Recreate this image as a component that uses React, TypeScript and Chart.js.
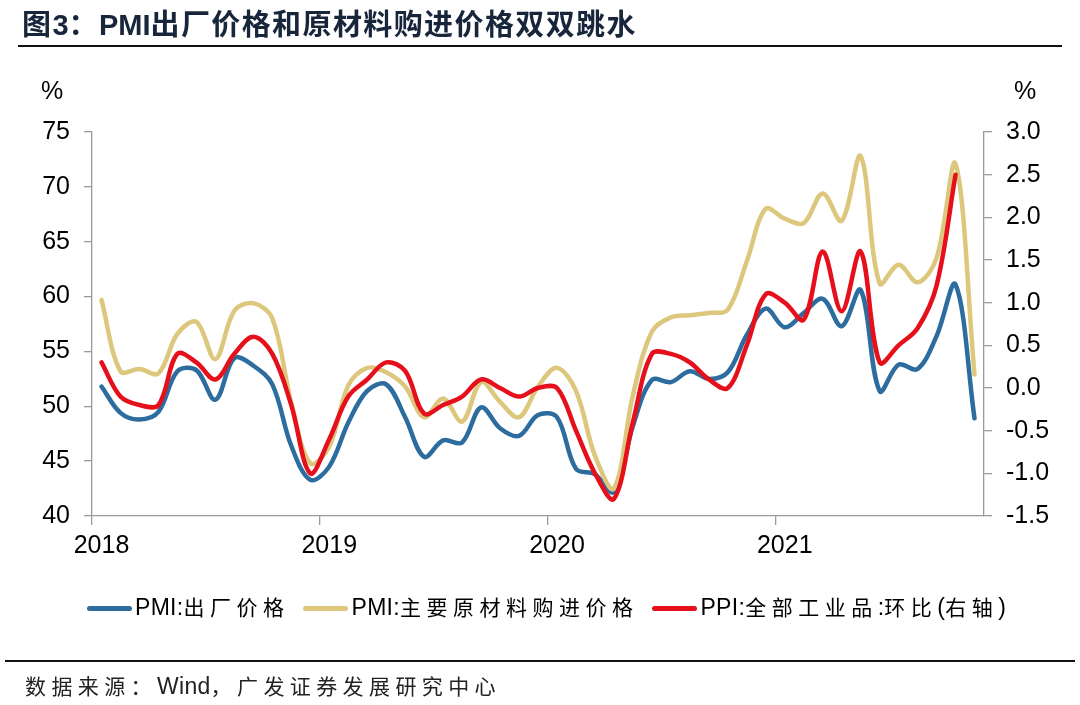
import React, { useEffect, useRef } from 'react';
import { Chart, registerables } from 'chart.js';

Chart.register(...registerables);

// Monthly categories, Jan 2018 – Nov 2021
const months = [
  '2018-01', '2018-02', '2018-03', '2018-04', '2018-05', '2018-06', '2018-07', '2018-08', '2018-09', '2018-10', '2018-11', '2018-12',
  '2019-01', '2019-02', '2019-03', '2019-04', '2019-05', '2019-06', '2019-07', '2019-08', '2019-09', '2019-10', '2019-11', '2019-12',
  '2020-01', '2020-02', '2020-03', '2020-04', '2020-05', '2020-06', '2020-07', '2020-08', '2020-09', '2020-10', '2020-11', '2020-12',
  '2021-01', '2021-02', '2021-03', '2021-04', '2021-05', '2021-06', '2021-07', '2021-08', '2021-09', '2021-10', '2021-11',
];

const yearLabels = ['2018', '2019', '2020', '2021'];

// PMI: 出厂价格 (left axis)
const pmiOutput = [
  51.8, 49.4, 48.8, 49.5, 53.2, 53.3, 50.6, 54.4, 53.7, 52.0, 46.4, 43.3,
  44.5, 48.5, 51.4, 52.0, 49.0, 45.4, 46.9, 46.7, 49.9, 48.0, 47.3, 49.2,
  49.0, 44.3, 43.8, 42.2, 48.2, 52.4, 52.2, 53.2, 52.5, 53.1, 56.5, 58.9,
  57.2, 58.5, 59.8, 57.3, 60.6, 51.4, 53.8, 53.4, 56.4, 61.1, 48.9,
];

// PMI: 主要原材料购进价格 (left axis)
const pmiInput = [
  59.7, 53.2, 53.4, 53.0, 56.6, 57.7, 54.3, 58.7, 59.4, 58.0, 50.3, 44.8,
  46.3, 51.9, 53.5, 53.1, 51.8, 49.0, 50.7, 48.6, 52.2, 50.4, 49.0, 51.8,
  53.5, 51.4, 45.5, 42.5, 51.0, 56.8, 58.1, 58.3, 58.5, 58.8, 63.2, 68.0,
  67.1, 66.7, 69.4, 66.9, 72.8, 61.2, 62.9, 61.3, 63.5, 72.1, 52.9,
];

// PPI: 全部工业品: 环比 (right axis)
const ppiMoM = [
  0.3, -0.1, -0.2, -0.2, 0.4, 0.3, 0.1, 0.4, 0.6, 0.4, -0.2, -1.0,
  -0.6, -0.1, 0.1, 0.3, 0.2, -0.3, -0.2, -0.1, 0.1, 0.0, -0.1, 0.0,
  0.0, -0.5, -1.0, -1.3, -0.4, 0.4, 0.4, 0.3, 0.1, 0.0, 0.5, 1.1,
  1.0, 0.8, 1.6, 0.9, 1.6, 0.3, 0.5, 0.7, 1.2, 2.5, null,
];

const seriesNames = ['PMI:出厂价格', 'PMI:主要原材料购进价格', 'PPI:全部工业品:环比(右轴)'];

const BLUE = '#2d6c9f';
const YELLOW = '#dcc77c';
const RED = '#e5101b';
const AXIS = '#9a9a9a';
const FONT = '"Liberation Sans", Arial, "Noto Sans CJK SC", sans-serif';

// Split text into CJK / non-CJK runs so spacing can differ
function Spaced({ text, cjkSpacing, latinSize, cjkSize, latinSpacing = 0.3 }: { text: string; cjkSpacing: number; latinSize: number; cjkSize: number; latinSpacing?: number }) {
  const runs: { s: string; cjk: boolean }[] = [];
  for (const ch of text) {
    const cjk = /[\u3000-\u9fff\uff00-\uffef]/.test(ch);
    const last = runs[runs.length - 1];
    if (last && last.cjk === cjk) last.s += ch;
    else runs.push({ s: ch, cjk });
  }
  return (
    <>
      {runs.map((r, i) => (
        <span key={i} style={r.cjk ? { letterSpacing: cjkSpacing, fontSize: cjkSize } : { letterSpacing: latinSpacing, fontSize: latinSize }}>
          {r.s}
        </span>
      ))}
    </>
  );
}

export default function App() {
  const ref = useRef<HTMLCanvasElement>(null);

  useEffect(() => {
    if (!ref.current) return;
    const chart = new Chart(ref.current, {
      type: 'line',
      data: {
        labels: months,
        datasets: [
          { label: seriesNames[0], data: pmiOutput, borderColor: BLUE, backgroundColor: BLUE, yAxisID: 'y', order: 3 },
          { label: seriesNames[1], data: pmiInput, borderColor: YELLOW, backgroundColor: YELLOW, yAxisID: 'y', order: 2 },
          { label: seriesNames[2], data: ppiMoM, borderColor: RED, backgroundColor: RED, yAxisID: 'y1', order: 1 },
        ],
      },
      options: {
        animation: false,
        responsive: false,
        maintainAspectRatio: false,
        elements: {
          line: { borderWidth: 4.5, tension: 0.35, borderCapStyle: 'round', borderJoinStyle: 'round' },
          point: { radius: 0, hoverRadius: 0 },
        },
        plugins: { legend: { display: false }, tooltip: { enabled: false } },
        layout: { padding: { top: 132, bottom: 139, left: 0, right: 0 } },
        scales: {
          x: {
            type: 'category',
            offset: true,
            grid: {
              offset: true,
              drawOnChartArea: false,
              drawTicks: true,
              tickLength: 9,
              lineWidth: 1.3,
              color: (ctx: any) => (ctx.index % 12 === 0 && ctx.index < months.length ? AXIS : 'rgba(0,0,0,0)'),
            },
            border: { display: true, color: AXIS, width: 1.3 },
            ticks: {
              autoSkip: false,
              maxRotation: 0,
              minRotation: 0,
              padding: 6,
              color: '#000',
              font: { family: FONT, size: 25 },
              callback: (_v: any, i: number) => (i % 12 === 0 ? yearLabels[i / 12] : ''),
            },
            afterFit: (s: any) => { s.height = 50; },
          },
          y: {
            position: 'left',
            min: 40,
            max: 75,
            grid: { drawOnChartArea: false, drawTicks: true, tickLength: 8, color: AXIS, lineWidth: 1.3 },
            border: { display: true, color: AXIS, width: 1.3 },
            ticks: { stepSize: 5, padding: 14, color: '#000', font: { family: FONT, size: 25 } },
            afterFit: (s: any) => { s.width = 92; },
          },
          y1: {
            position: 'right',
            min: -1.5,
            max: 3.0,
            grid: { drawOnChartArea: false, drawTicks: true, tickLength: 8, color: AXIS, lineWidth: 1.3 },
            border: { display: true, color: AXIS, width: 1.3 },
            ticks: {
              stepSize: 0.5,
              padding: 14,
              color: '#000',
              font: { family: FONT, size: 25 },
              callback: (v: any) => Number(v).toFixed(1),
            },
            afterFit: (s: any) => { s.width = 96; },
          },
        },
      } as any,
    });
    return () => chart.destroy();
  }, []);

  const legendColors = [BLUE, YELLOW, RED];

  return (
    <div style={{ position: 'fixed', left: 0, top: 0, width: 1080, height: 705, background: '#fff', overflow: 'hidden', fontFamily: FONT }}>
      <canvas ref={ref} width={1080} height={705} style={{ position: 'absolute', left: 0, top: 0, width: 1080, height: 705 }} />
      <div style={{ position: 'absolute', left: 22, top: 8, lineHeight: '34px', fontWeight: 700, color: '#17263a', whiteSpace: 'nowrap' }}>
        <Spaced text="图3：PMI出厂价格和原材料购进价格双双跳水" cjkSpacing={1.4} latinSize={29} cjkSize={29} latinSpacing={0} />
      </div>
      <div style={{ position: 'absolute', left: 18, top: 45, width: 1044, height: 2, background: '#111' }} />
      <div style={{ position: 'absolute', left: 37, top: 75, width: 30, textAlign: 'center', fontSize: 25, lineHeight: '30px', color: '#000' }}>%</div>
      <div style={{ position: 'absolute', left: 1010, top: 75, width: 30, textAlign: 'center', fontSize: 25, lineHeight: '30px', color: '#000' }}>%</div>
      <div style={{ position: 'absolute', left: 87, top: 593, height: 30, display: 'flex', alignItems: 'center', whiteSpace: 'nowrap' }}>
        {seriesNames.map((n, i) => (
          <div key={n} style={{ display: 'flex', alignItems: 'center', marginRight: 14 }}>
            <div style={{ width: 45, height: 5, borderRadius: 2.5, background: legendColors[i], marginRight: 3 }} />
            <span style={{ color: '#000', lineHeight: '30px' }}>
              <Spaced text={n} cjkSpacing={5.5} latinSize={23} cjkSize={21} />
            </span>
          </div>
        ))}
      </div>
      <div style={{ position: 'absolute', left: 5, top: 660, width: 1070, height: 2, background: '#111' }} />
      <div style={{ position: 'absolute', left: 25, top: 671, lineHeight: '30px', color: '#222', whiteSpace: 'nowrap' }}>
        <Spaced text="数据来源：Wind，广发证券发展研究中心" cjkSpacing={5.4} latinSize={23} cjkSize={21} />
      </div>
    </div>
  );
}
